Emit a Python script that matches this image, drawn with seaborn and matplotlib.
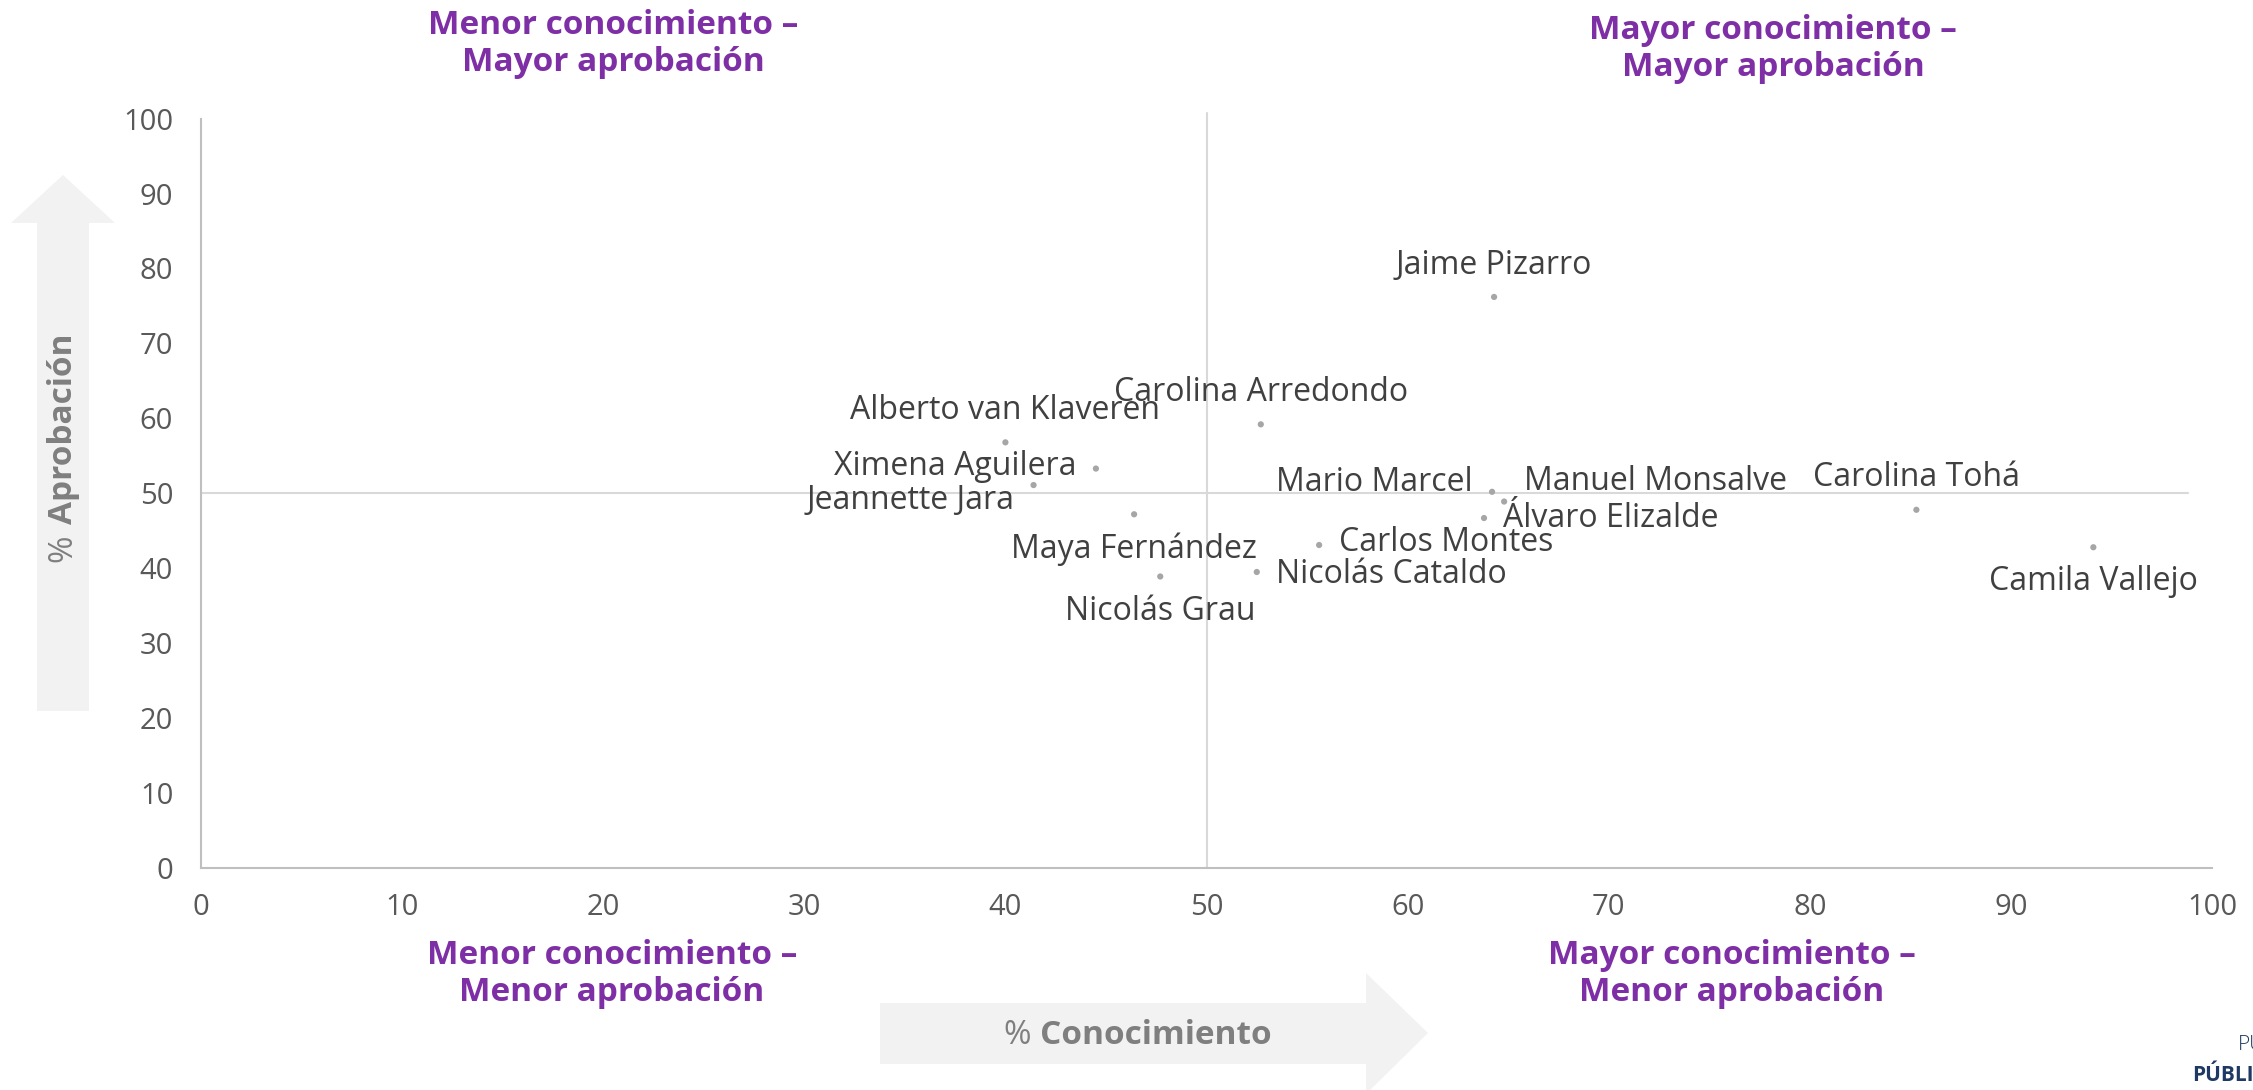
import matplotlib
matplotlib.use("Agg")
import matplotlib.pyplot as plt
import seaborn as sns
import pandas as pd
from matplotlib.patches import Polygon

# data
names = ["Jaime Pizarro", "Carolina Arredondo", "Alberto van Klaveren", "Ximena Aguilera",
         "Jeannette Jara", "Maya Fernández", "Nicolás Grau", "Nicolás Cataldo",
         "Carlos Montes", "Mario Marcel", "Manuel Monsalve", "Álvaro Elizalde",
         "Carolina Tohá", "Camila Vallejo"]
conocimiento = [64.3, 52.7, 40.0, 44.5, 41.4, 46.4, 47.7, 52.5, 55.6, 64.2, 64.8, 63.8, 85.3, 94.1]
aprobacion = [76.2, 59.2, 56.8, 53.3, 51.1, 47.2, 38.9, 39.5, 43.1, 50.2, 48.9, 46.7, 47.8, 42.8]
ticks = list(range(0, 101, 10))

quadrant_labels = ["Menor conocimiento –\nMayor aprobación", "Mayor conocimiento –\nMayor aprobación",
                   "Menor conocimiento –\nMenor aprobación", "Mayor conocimiento –\nMenor aprobación"]

# label placement for each point (side, extra vertical shift in px)
label_side = ["top", "top", "top", "left", "left", "bottom", "bottom", "right",
              "right", "left", "right", "right", "top", "bottom"]
label_dy = [0, 0, 0, 2, -15, 0, 0, -3, 3, 9, 20, 0, 0, 0]

df = pd.DataFrame({"nombre": names, "conocimiento": conocimiento, "aprobacion": aprobacion})

sns.set_theme(style="white")
plt.rcParams["font.family"] = ["Open Sans", "DejaVu Sans"]

W, H = 2253, 1090
fig = plt.figure(figsize=(W / 100, H / 100), dpi=100)


def fx(x):
    return x / W


def fy(y):
    return 1 - y / H


ax = fig.add_axes([fx(201), fy(868), 2011 / W, 749.4 / H])

# background arrows
grey = "#F2F2F2"
up = [(37, 711), (37, 223), (11, 223), (63, 175), (115, 223), (89, 223), (89, 711)]
right = [(880, 1003), (1366, 1003), (1366, 973), (1428, 1033), (1366, 1094), (1366, 1064), (880, 1064)]
for pts in (up, right):
    fig.patches.append(Polygon([(fx(a), fy(b)) for a, b in pts], closed=True,
                               transform=fig.transFigure, facecolor=grey, edgecolor="none", zorder=0))

ax.axvline(50, ymin=0, ymax=1.008, color="#D9D9D9", lw=1.5, clip_on=False, zorder=1)
ax.axhline(50, xmin=0, xmax=0.988, color="#D9D9D9", lw=1.5, zorder=1)

sns.scatterplot(data=df, x="conocimiento", y="aprobacion", color="#A6A6A6", s=20,
                edgecolor="none", ax=ax, zorder=3, legend=False)

offsets = {"top": (0, 23, "center"), "bottom": (0, -25, "center"),
           "left": (-14, 0, "right"), "right": (14, 0, "left")}
for n, x, y, side, dy in zip(names, conocimiento, aprobacion, label_side, label_dy):
    ox, oy, ha = offsets[side]
    ax.annotate(n, (x, y), xytext=(ox, oy + dy * 0.72), textcoords="offset points",
                ha=ha, va="center", fontsize=23, color="#404040", zorder=4)

ax.set_xlim(0, 100)
ax.set_ylim(0, 100)
ax.set_xticks(ticks)
ax.set_yticks(ticks)
ax.set_xlabel("")
ax.set_ylabel("")
ax.tick_params(axis="both", length=0, labelsize=21, labelcolor="#595959")
ax.tick_params(axis="x", pad=18)
ax.tick_params(axis="y", pad=20)
sns.despine(ax=ax)
for s in ("left", "bottom"):
    ax.spines[s].set_color("#BFBFBF")
    ax.spines[s].set_linewidth(1.5)

# quadrant captions
purple = "#7F2FA6"
for txt, (cx, cy) in zip(quadrant_labels, [(613, 44), (1773, 49), (612, 974), (1732, 974)]):
    fig.text(fx(cx), fy(cy), txt, ha="center", va="center", fontsize=24, fontweight="bold",
             color=purple, linespacing=1.15, multialignment="center")

# axis titles: regular "%" followed by a bold word
axis_grey = "#7F7F7F"
renderer = fig.canvas.get_renderer()
p1 = fig.text(fx(1003), fy(1035), "%", ha="left", va="center", fontsize=24, color=axis_grey)
bb = p1.get_window_extent(renderer)
fig.text((bb.x1 + 10) / W, fy(1035), "Conocimiento", ha="left", va="center", fontsize=24,
         fontweight="bold", color=axis_grey)
p2 = fig.text(fx(63), fy(562), "%", ha="center", va="bottom", rotation=90, fontsize=24, color=axis_grey)
bb = p2.get_window_extent(renderer)
fig.text(fx(63), (bb.y1 + 10) / H, "Aprobación", ha="center", va="bottom", rotation=90, fontsize=24,
         fontweight="bold", color=axis_grey)

# cropped logo in the corner
fig.text(fx(2238), fy(1050), "PULSO", ha="left", va="baseline", fontsize=15, color="#1F3864",
         fontweight="light")
fig.text(fx(2192), fy(1081), "PÚBLICO", ha="left", va="baseline", fontsize=15, color="#1F3864",
         fontweight="bold")

fig.savefig("out.png", dpi=100)
